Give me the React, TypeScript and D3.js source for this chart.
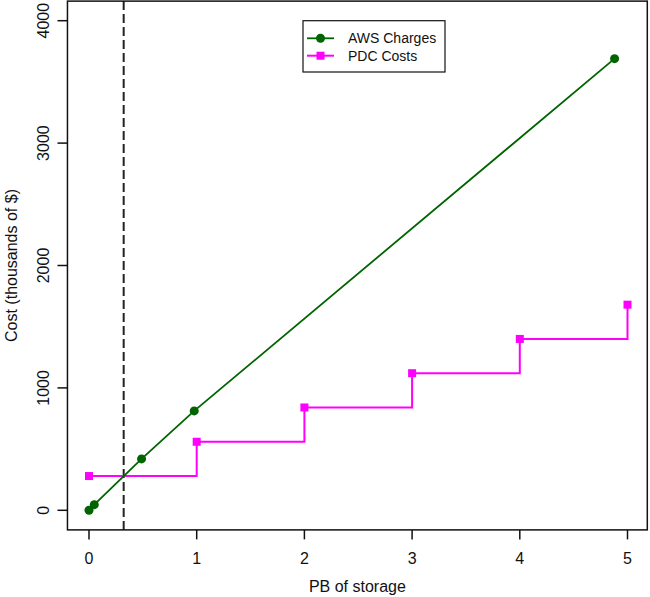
import { useEffect, useRef } from "react";
import * as d3 from "d3";

// AWS charges (thousands of $) at 0, 50, 500, 1000, 5000 TB expressed in PB
const awsPB = [0, 0.049, 0.488, 0.977, 4.88];
const awsCost = [0, 46, 420, 812, 3690];

// PDC costs, step function by PB
const pdcPB = [0, 1, 2, 3, 4, 5];
const pdcCost = [280, 560, 840, 1120, 1400, 1680];

const xTicks = [0, 1, 2, 3, 4, 5];
const yTicks = [0, 1000, 2000, 3000, 4000];
const breakEvenPB = 0.322;

const legendItems = ["AWS Charges", "PDC Costs"];

const W = 650;
const H = 597;
const FONT = "'Liberation Sans', Arial, Helvetica, sans-serif";
const GREEN = "#006400";
const MAGENTA = "#ff00ff";

export default function App() {
  const svgRef = useRef<SVGSVGElement>(null);

  useEffect(() => {
    if (!svgRef.current) return;
    const svg = d3.select(svgRef.current);
    svg.selectAll("*").remove();

    const x = d3.scaleLinear().domain([0, 5]).range([89, 627.5]);
    const y = d3.scaleLinear().domain([0, 4000]).range([510.3, 20.7]);

    // plot region (R style 4% extension)
    const x0 = x(-0.2);
    const x1 = 647.3;
    const y0 = y(-160);
    const y1 = y(4160);

    // dashed break-even line
    svg
      .append("line")
      .attr("x1", x(breakEvenPB))
      .attr("x2", x(breakEvenPB))
      .attr("y1", y1)
      .attr("y2", y0)
      .attr("stroke", "#222")
      .attr("stroke-width", 2)
      .attr("stroke-dasharray", "9,4");

    // PDC step line
    const pdcData = pdcPB.map((d, i) => [d, pdcCost[i]] as [number, number]);
    const step = d3
      .line<[number, number]>()
      .x((d) => x(d[0]))
      .y((d) => y(d[1]))
      .curve(d3.curveStepAfter);
    svg
      .append("path")
      .attr("d", step(pdcData))
      .attr("fill", "none")
      .attr("stroke", MAGENTA)
      .attr("stroke-width", 2);
    svg
      .selectAll("rect.pdc")
      .data(pdcData)
      .enter()
      .append("rect")
      .attr("class", "pdc")
      .attr("x", (d) => x(d[0]) - 4)
      .attr("y", (d) => y(d[1]) - 4)
      .attr("width", 8)
      .attr("height", 8)
      .attr("fill", MAGENTA);

    // AWS line
    const awsData = awsPB.map((d, i) => [d, awsCost[i]] as [number, number]);
    const line = d3
      .line<[number, number]>()
      .x((d) => x(d[0]))
      .y((d) => y(d[1]));
    svg
      .append("path")
      .attr("d", line(awsData))
      .attr("fill", "none")
      .attr("stroke", GREEN)
      .attr("stroke-width", 1.8);
    svg
      .selectAll("circle.aws")
      .data(awsData)
      .enter()
      .append("circle")
      .attr("class", "aws")
      .attr("cx", (d) => x(d[0]))
      .attr("cy", (d) => y(d[1]))
      .attr("r", 4.5)
      .attr("fill", GREEN);

    // box
    svg
      .append("rect")
      .attr("x", x0)
      .attr("y", y1)
      .attr("width", x1 - x0)
      .attr("height", y0 - y1)
      .attr("fill", "none")
      .attr("stroke", "#111")
      .attr("stroke-width", 1.5);

    // x axis
    const xa = svg.append("g");
    xa.selectAll("line")
      .data(xTicks)
      .enter()
      .append("line")
      .attr("x1", (d) => x(d))
      .attr("x2", (d) => x(d))
      .attr("y1", y0)
      .attr("y2", y0 + 9.5)
      .attr("stroke", "#111")
      .attr("stroke-width", 1.5);
    xa.selectAll("text")
      .data(xTicks)
      .enter()
      .append("text")
      .attr("x", (d) => x(d))
      .attr("y", 563.5)
      .attr("text-anchor", "middle")
      .attr("font-family", FONT)
      .attr("font-size", 16)
      .attr("fill", "#111")
      .text((d) => d);

    // y axis
    const ya = svg.append("g");
    ya.selectAll("line")
      .data(yTicks)
      .enter()
      .append("line")
      .attr("x1", x0 - 10)
      .attr("x2", x0)
      .attr("y1", (d) => y(d))
      .attr("y2", (d) => y(d))
      .attr("stroke", "#111")
      .attr("stroke-width", 1.5);
    ya.selectAll("text")
      .data(yTicks)
      .enter()
      .append("text")
      .attr("transform", (d) => `translate(49,${y(d)}) rotate(-90)`)
      .attr("text-anchor", "middle")
      .attr("font-family", FONT)
      .attr("font-size", 16)
      .attr("fill", "#111")
      .text((d) => d);

    // axis titles
    svg
      .append("text")
      .attr("x", (x0 + x1) / 2)
      .attr("y", 591.5)
      .attr("text-anchor", "middle")
      .attr("font-family", FONT)
      .attr("font-size", 16)
      .attr("fill", "#111")
      .text("PB of storage");
    svg
      .append("text")
      .attr("transform", `translate(17,${(y0 + y1) / 2}) rotate(-90)`)
      .attr("text-anchor", "middle")
      .attr("font-family", FONT)
      .attr("font-size", 16)
      .attr("fill", "#111")
      .text("Cost (thousands of $)");

    // legend
    const lg = svg.append("g").attr("transform", "translate(303,20.7)");
    lg.append("rect")
      .attr("width", 142)
      .attr("height", 51.3)
      .attr("fill", "white")
      .attr("stroke", "#111")
      .attr("stroke-width", 1.2);
    const colors = [GREEN, MAGENTA];
    legendItems.forEach((name, i) => {
      const cy = 17.6 + i * 17.4;
      lg.append("line")
        .attr("x1", 4)
        .attr("x2", 31)
        .attr("y1", cy)
        .attr("y2", cy)
        .attr("stroke", colors[i])
        .attr("stroke-width", i === 0 ? 1.8 : 2);
      if (i === 0) {
        lg.append("circle").attr("cx", 17.5).attr("cy", cy).attr("r", 4.5).attr("fill", colors[i]);
      } else {
        lg.append("rect")
          .attr("x", 13.5)
          .attr("y", cy - 4)
          .attr("width", 8)
          .attr("height", 8)
          .attr("fill", colors[i]);
      }
      lg.append("text")
        .attr("x", 45)
        .attr("y", cy + 5)
        .attr("font-family", FONT)
        .attr("font-size", 14)
        .attr("fill", "#111")
        .text(name);
    });
  }, []);

  return (
    <div style={{ position: "absolute", left: 0, top: 0, width: W, height: H, background: "white" }}>
      <svg ref={svgRef} width={W} height={H} />
    </div>
  );
}
